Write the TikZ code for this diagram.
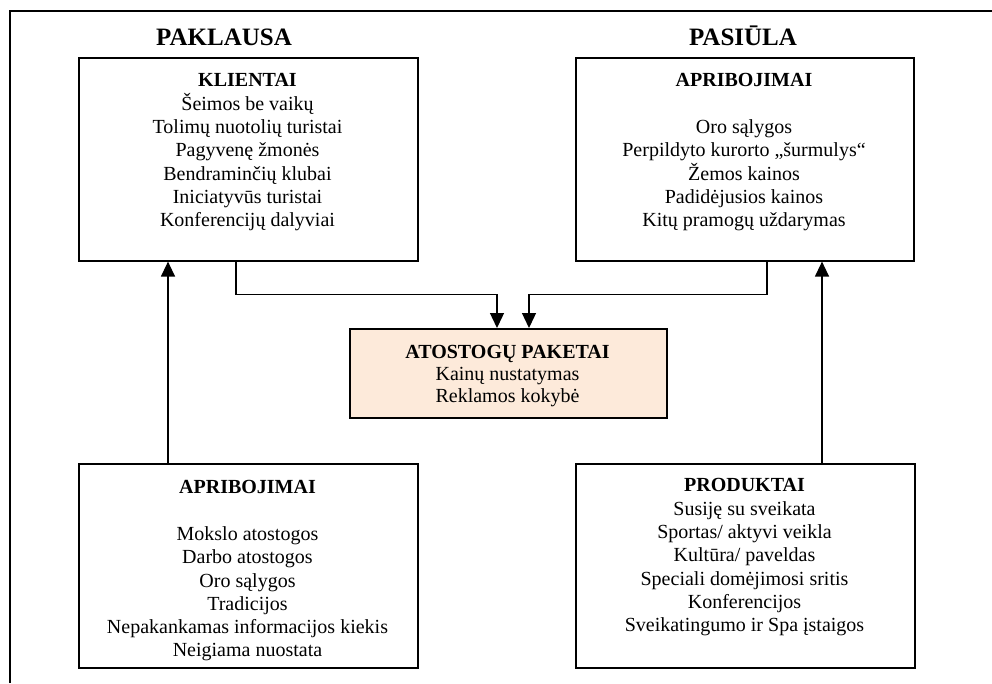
\documentclass[tikz,border=0pt]{standalone}
\usepackage{fontspec}
\setmainfont{Liberation Serif}
\usetikzlibrary{arrows.meta,calc}
\definecolor{peach}{HTML}{FDEADA}
\begin{document}
\begin{tikzpicture}[x=1pt,y=-1pt,
  box/.style={draw, line width=1.6pt, anchor=north west, inner sep=0pt},
  body/.style={align=center, inner sep=0pt, anchor=north,
    font=\fontsize{20pt}{23.3pt}\selectfont},
  title/.style={inner sep=0pt, anchor=base, font=\fontsize{25pt}{30pt}\selectfont\bfseries},
  conn/.style={line width=1.3pt},
  arr/.style={conn, -{Triangle[length=15pt, width=14pt]}},
  frameline/.style={line width=1.5pt}]
\useasboundingbox (0,0) rectangle (992,683);

% outer frame (open on the right and at the bottom)
\draw[frameline] (10,683) -- (10,11) -- (992,11);

% column titles
\node[title] (paklausa) at (224,45) {PAKLAUSA};
\node[title] (pasiula)  at (743,45) {PASIŪLA};

% boxes
\node[box, minimum width=339pt, minimum height=203pt] (klientai) at (78,57) {};
\node[box, minimum width=338pt, minimum height=203pt] (aprTop)   at (575,57) {};
\node[box, minimum width=317pt, minimum height=89pt, fill=peach] (paketai) at (349,328) {};
\node[box, minimum width=339pt, minimum height=204pt] (aprBot)   at (78,463) {};
\node[box, minimum width=339pt, minimum height=204pt] (produktai) at (575,463) {};

% box texts
\node[body] (klientaiTxt) at (247.5,73.4) {\textbf{KLIENTAI}\\
  Šeimos be vaikų\\ Tolimų nuotolių turistai\\ Pagyvenę žmonės\\
  Bendraminčių klubai\\ Iniciatyvūs turistai\\ Konferencijų dalyviai};
\node[body] (aprTopTxt) at (744,73.4) {\textbf{APRIBOJIMAI}\\[23.3pt]
  Oro sąlygos\\ Perpildyto kurorto „šurmulys“\\ Žemos kainos\\
  Padidėjusios kainos\\ Kitų pramogų uždarymas};
\node[body, font=\fontsize{20pt}{22pt}\selectfont] (paketaiTxt) at (507.5,345.4)
  {\textbf{ATOSTOGŲ PAKETAI}\\ Kainų nustatymas\\ Reklamos kokybė};
\node[body] (aprBotTxt) at (247.5,480.4) {\textbf{APRIBOJIMAI}\\[23.3pt]
  Mokslo atostogos\\ Darbo atostogos\\ Oro sąlygos\\ Tradicijos\\
  Nepakankamas informacijos kiekis\\ Neigiama nuostata};
\node[body] (produktaiTxt) at (744.5,478.4) {\textbf{PRODUKTAI}\\
  Susiję su sveikata\\ Sportas/ aktyvi veikla\\ Kultūra/ paveldas\\
  Speciali domėjimosi sritis\\ Konferencijos\\ Sveikatingumo ir Spa įstaigos};

% connector end points on the box edges
\coordinate (klOut)  at ($(klientai.south west)+(158,0)$);
\coordinate (apOut)  at ($(aprTop.south west)+(192,0)$);
\coordinate (pkInL)  at ($(paketai.north west)+(148,0)$);
\coordinate (pkInR)  at ($(paketai.north west)+(180,0)$);
\coordinate (abOut)  at ($(aprBot.north west)+(90,0)$);
\coordinate (klIn)   at ($(klientai.south west)+(90,0)$);
\coordinate (prOut)  at ($(produktai.north west)+(247,0)$);
\coordinate (apIn)   at ($(aprTop.south west)+(247,0)$);

% connectors
\draw[arr] (klOut) -- ++(0,33) -| (pkInL);
\draw[arr] (apOut) -- ++(0,33) -| (pkInR);
\draw[arr] (abOut) -- (klIn);
\draw[arr] (prOut) -- (apIn);
\end{tikzpicture}
\end{document}
